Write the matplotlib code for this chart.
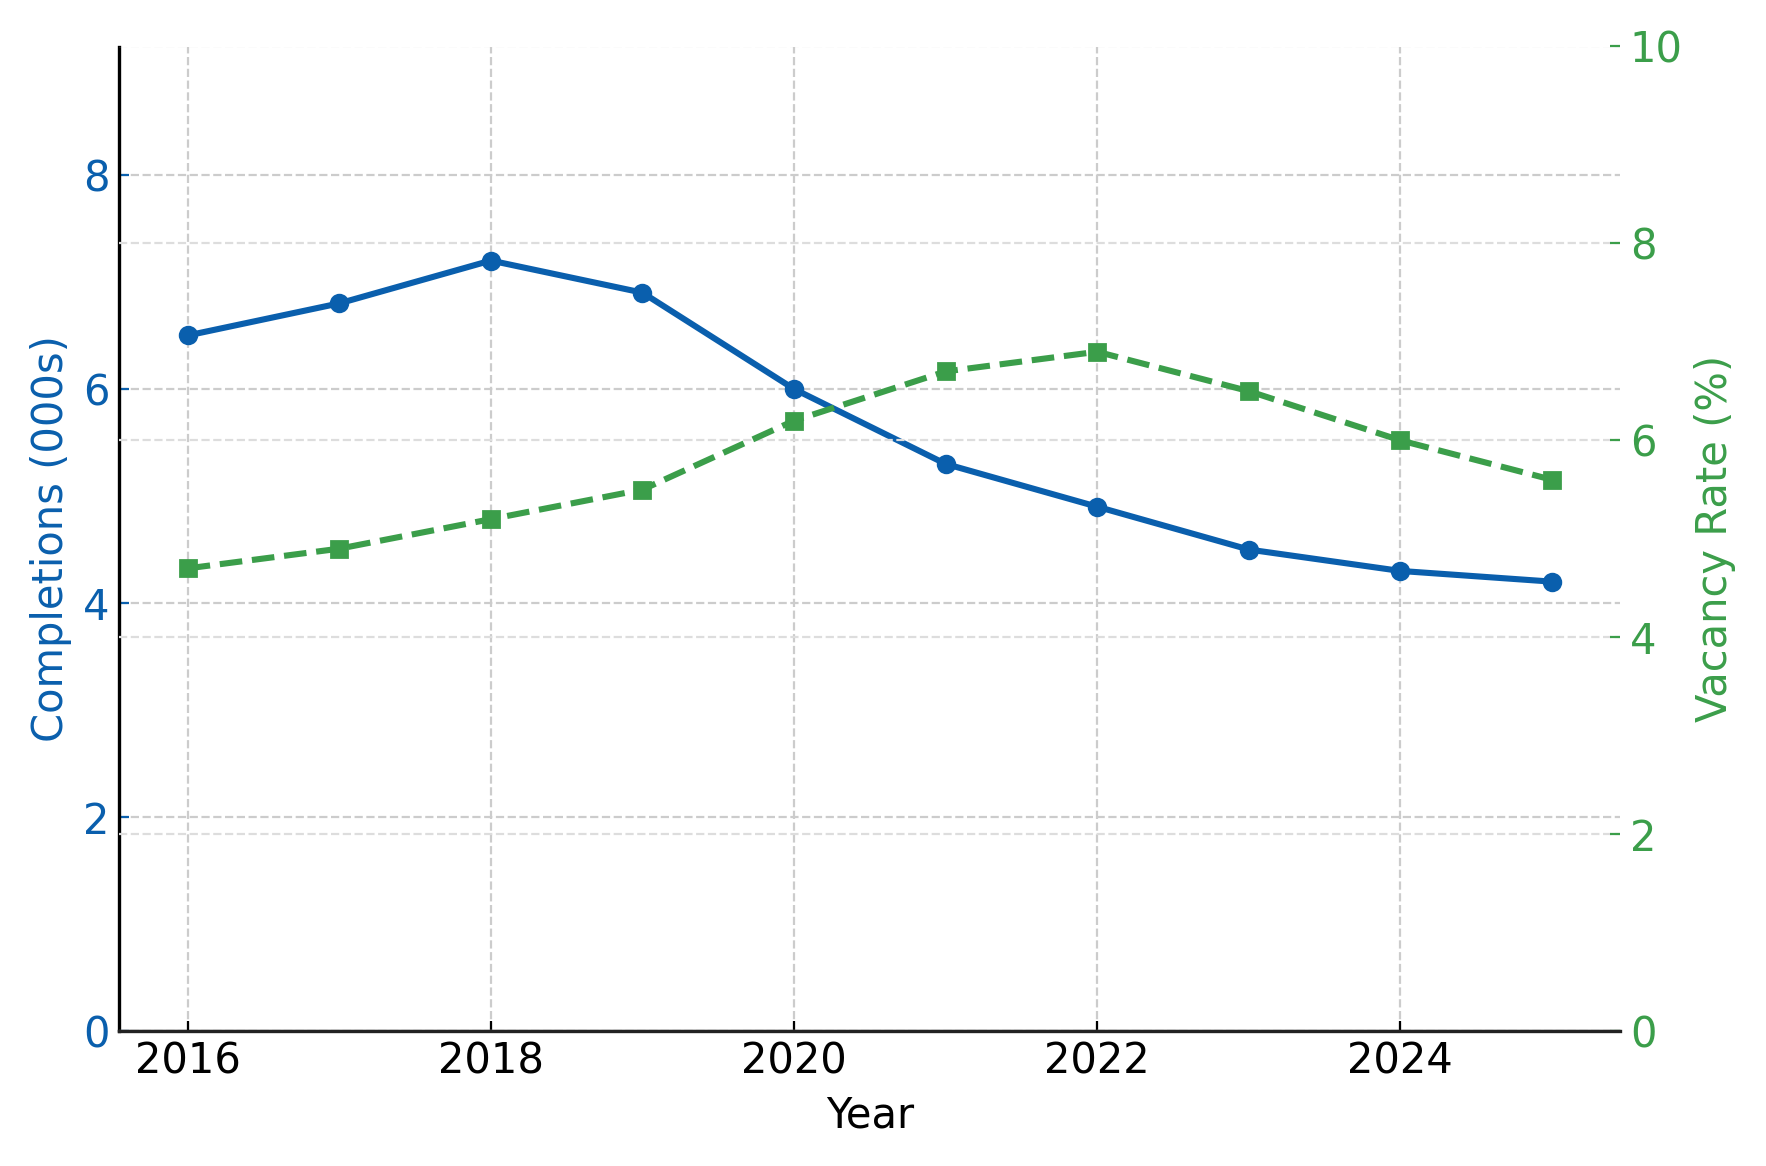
import matplotlib
matplotlib.use("Agg")
import matplotlib.pyplot as plt

years = [2016, 2017, 2018, 2019, 2020, 2021, 2022, 2023, 2024, 2025]
completions = [6.5, 6.8, 7.2, 6.9, 6.0, 5.3, 4.9, 4.5, 4.3, 4.2]
vacancy = [4.7, 4.9, 5.2, 5.5, 6.2, 6.7, 6.9, 6.5, 6.0, 5.6]

blue = "#0a5fad"
green = "#3b9e4a"

fig, ax = plt.subplots(figsize=(8.83, 5.83), dpi=200)
ax2 = ax.twinx()

ax.plot(years, completions, color=blue, lw=2.2, marker="o", ms=6, zorder=3)
ax2.plot(years, vacancy, color=green, lw=2.2, ls="--", marker="s", ms=6, zorder=3)

ax.set_ylim(0, 9.2)
ax2.set_ylim(0, 10)
ax.set_xlim(2015.55, 2025.45)
ax.set_xticks([2016, 2018, 2020, 2022, 2024])
ax.set_yticks([0, 2, 4, 6, 8])
ax2.set_yticks([0, 2, 4, 6, 8, 10])

ax.set_xlabel("Year", fontsize=15)
ax.set_ylabel("Completions (000s)", color=blue, fontsize=15)
ax2.set_ylabel("Vacancy Rate (%)", color=green, fontsize=15)

ax.tick_params(axis="y", colors=blue, labelsize=15, direction="in")
ax.tick_params(axis="x", labelsize=15, direction="in")
ax2.tick_params(axis="y", colors=green, labelsize=15, direction="in")

ax.grid(True, ls="--", color="#cccccc", lw=0.8)
ax2.grid(True, ls="--", color="#dddddd", lw=0.8)

for a in (ax, ax2):
    a.spines["top"].set_visible(False)
    a.spines["right"].set_visible(False)
ax2.spines["left"].set_visible(False)
ax2.spines["bottom"].set_visible(True)
ax2.spines["bottom"].set_linewidth(1.2)
ax2.spines["bottom"].set_color("#222222")
ax.spines["left"].set_linewidth(1.2)

fig.tight_layout()
fig.savefig("out.png", dpi=200)
